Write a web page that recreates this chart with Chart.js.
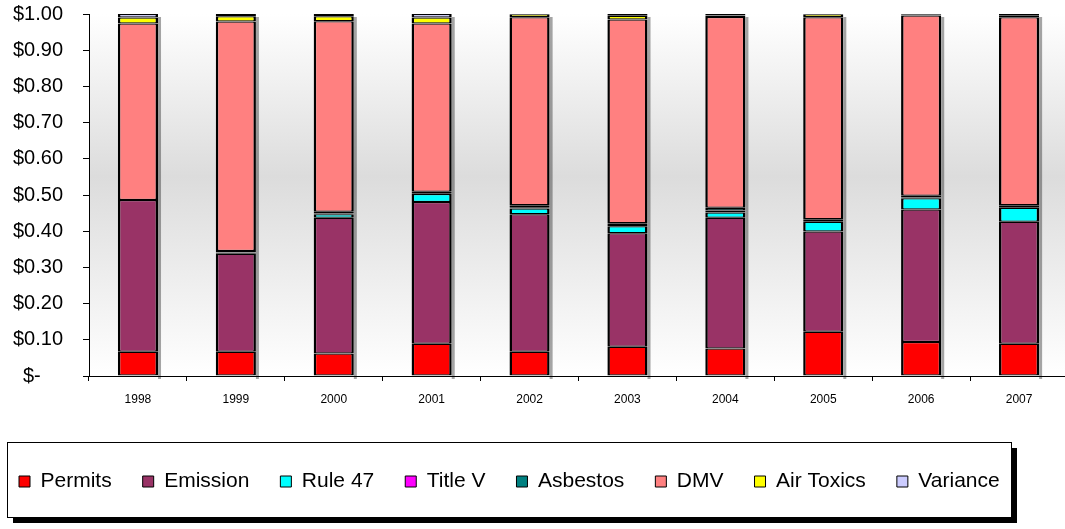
<!DOCTYPE html>
<html>
<head>
<meta charset="utf-8">
<script src="https://cdn.jsdelivr.net/npm/chart.js@4.4.1/dist/chart.umd.min.js"></script>
<style>
  html, body { margin: 0; padding: 0; background: #fff; overflow: hidden; }
  #wrap { width: 1068px; height: 529px; }
</style>
</head>
<body>
<div id="wrap"><canvas id="myChart"></canvas></div>
<script>
// share of each dollar, by year
const years = ['1998', '1999', '2000', '2001', '2002', '2003', '2004', '2005', '2006', '2007'];
const permits    = [0.067, 0.067, 0.062, 0.089, 0.067, 0.081, 0.076, 0.122, 0.094, 0.089];
const emission   = [0.419, 0.271, 0.375, 0.392, 0.380, 0.313, 0.361, 0.277, 0.366, 0.337];
const rule47     = [0.000, 0.003, 0.010, 0.022, 0.016, 0.020, 0.015, 0.027, 0.031, 0.039];
const titleV     = [0.000, 0.001, 0.002, 0.002, 0.003, 0.003, 0.005, 0.002, 0.002, 0.002];
const asbestos   = [0.000, 0.003, 0.005, 0.004, 0.006, 0.005, 0.008, 0.005, 0.005, 0.005];
const dmv        = [0.488, 0.634, 0.526, 0.465, 0.519, 0.563, 0.527, 0.558, 0.498, 0.519];
const airToxics  = [0.016, 0.015, 0.014, 0.016, 0.008, 0.010, 0.004, 0.008, 0.002, 0.004];
const variance   = [0.010, 0.006, 0.006, 0.010, 0.001, 0.005, 0.004, 0.001, 0.002, 0.005];

const yTicks = [0, 0.1, 0.2, 0.3, 0.4, 0.5, 0.6, 0.7, 0.8, 0.9, 1.0];

const FONT = '"Liberation Sans", Arial, sans-serif';

function ds(label, data, color) {
    return {
        label: label,
        data: data,
        backgroundColor: color,
        borderColor: '#000',
        borderWidth: { top: 1.25, bottom: 1.25, left: 2.5, right: 2.5 },
        borderSkipped: false
    };
}

// grey plot background, bar shadows and the framed legend
const backdrop = {
    id: 'backdrop',
    beforeUpdate(chart) {
        const lg = chart.legend;
        if (lg && !lg._tall) {
            const fit = lg.fit;
            lg.fit = function () { fit.call(this); this.height = 89; };
            lg._tall = true;
        }
    },
    afterUpdate(chart) {
        const lg = chart.legend;
        lg.left = 19 - lg.options.labels.padding;
    },
    beforeDraw(chart) {
        const { ctx, chartArea: a } = chart;
        ctx.save();
        const g = ctx.createLinearGradient(0, a.top, 0, a.bottom);
        g.addColorStop(0, '#ffffff');
        g.addColorStop(0.45, '#dcdcdc');
        g.addColorStop(1, '#ffffff');
        ctx.fillStyle = g;
        ctx.fillRect(a.left, a.top, a.right - a.left, a.bottom - a.top);

        // legend frame with hard shadow
        const x = 7, y = 442, w = 1004, h = 75;
        ctx.fillStyle = '#000';
        ctx.fillRect(x + 6, y + 6, w, h);
        ctx.fillStyle = '#fff';
        ctx.fillRect(x, y, w, h);
        ctx.strokeStyle = '#000';
        ctx.lineWidth = 1;
        ctx.strokeRect(x + 0.5, y + 0.5, w, h);
        ctx.restore();
    },
    beforeDatasetsDraw(chart) {
        const { ctx } = chart;
        const base = chart.scales.y.getPixelForValue(0);
        const metas = chart.getSortedVisibleDatasetMetas();
        ctx.save();
        ctx.fillStyle = 'rgba(0,0,0,0.35)';
        metas[0].data.forEach((bar, i) => {
            let top = base;
            metas.forEach(m => { top = Math.min(top, m.data[i].y); });
            const right = bar.x + bar.width / 2;
            ctx.fillRect(right, top + 3, 3, base - top);
        });
        ctx.restore();
    }
};

const ctx = document.getElementById('myChart').getContext('2d');
const myChart = new Chart(ctx, {
    type: 'bar',
    data: {
        labels: years,
        datasets: [
            ds('Permits', permits, '#ff0000'),
            ds('Emission', emission, '#993366'),
            ds('Rule 47', rule47, '#00ffff'),
            ds('Title V', titleV, '#ff00ff'),
            ds('Asbestos', asbestos, '#008080'),
            ds('DMV', dmv, '#ff8080'),
            ds('Air Toxics', airToxics, '#ffff00'),
            ds('Variance', variance, '#ccccff')
        ]
    },
    options: {
        responsive: true,
        maintainAspectRatio: false,
        animation: false,
        layout: { padding: { top: 14, left: 11, right: 0, bottom: 0 } },
        datasets: { bar: { categoryPercentage: 1, barPercentage: 0.41 } },
        plugins: {
            tooltip: { enabled: false },
            legend: {
                position: 'bottom',
                align: 'start',
                labels: {
                    color: '#000',
                    font: { family: FONT, size: 21 },
                    boxWidth: 11,
                    boxHeight: 11,
                    padding: 31,
                    generateLabels(chart) {
                        const items = Chart.defaults.plugins.legend.labels.generateLabels(chart);
                        items.forEach(it => { it.lineWidth = 1; });
                        return items;
                    }
                }
            }
        },
        scales: {
            x: {
                stacked: true,
                afterFit(scale) { scale.height = 64; },
                border: { display: true, color: '#000', width: 1 },
                grid: { drawOnChartArea: false, drawTicks: true, tickLength: 5, color: '#000', offset: true },
                ticks: { color: '#000', font: { family: FONT, size: 12 }, padding: 11, maxRotation: 0 }
            },
            y: {
                stacked: true,
                min: 0,
                max: 1,
                afterFit(scale) {
                    scale.width = 78;
                    scale.paddingTop = 0;
                    scale.paddingBottom = 0;
                },
                afterBuildTicks(scale) { scale.ticks = yTicks.map(v => ({ value: v })); },
                border: { display: true, color: '#000', width: 1 },
                grid: { drawOnChartArea: false, drawTicks: true, tickLength: 6, color: '#000' },
                ticks: {
                    color: '#000',
                    font: { family: FONT, size: 20 },
                    padding: 20,
                    callback: v => v === 0 ? '$-    ' : '$' + v.toFixed(2)
                }
            }
        }
    },
    plugins: [backdrop]
});
</script>
</body>
</html>
